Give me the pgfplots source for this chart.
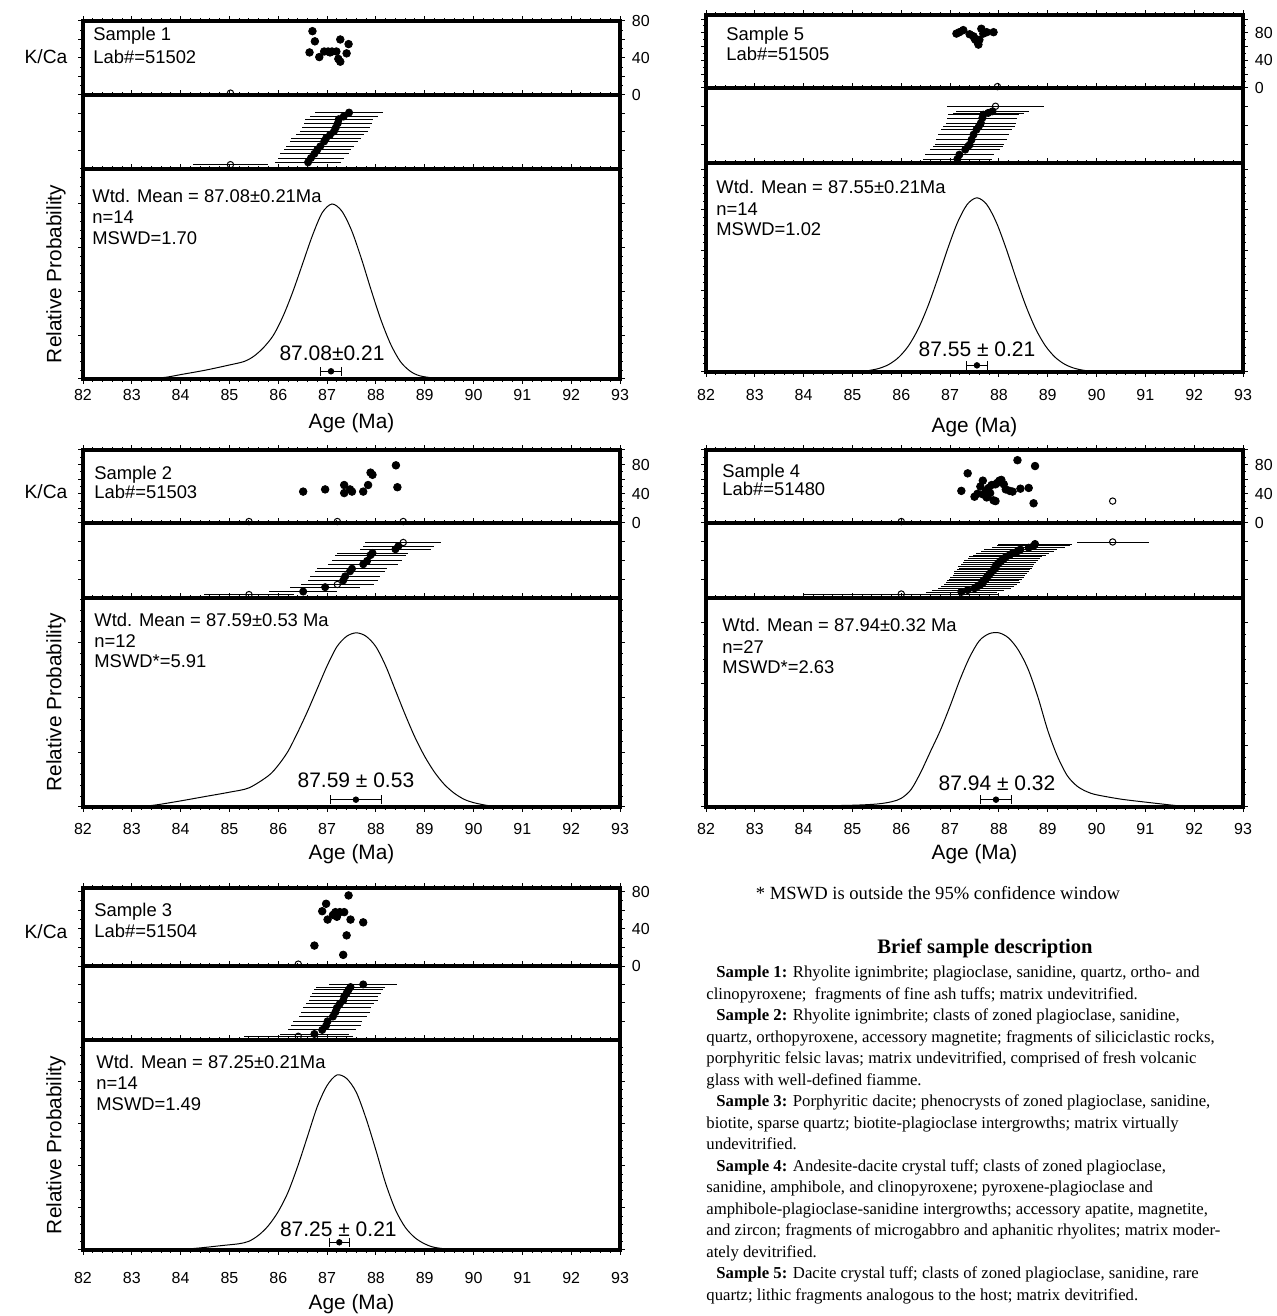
\documentclass[border=0pt]{standalone}
\usepackage{pgfplots}
\pgfplotsset{compat=1.18}
\usepackage{fontspec}
\setmainfont{Liberation Sans}
\newfontfamily\timesfont{Liberation Serif}

\pgfplotsset{
  base/.style={
    scale only axis, width=268.5pt, xmin=82, xmax=93,
    axis line style={line width=1.7pt},
    xtick={82,...,93}, minor x tick num=4,
    tick align=outside,
    major tick length=2.4pt, minor tick length=1.3pt,
    tick style={black, line width=0.5pt},
    /pgf/number format/assume math mode=true,
    tick label style={font=\fontsize{8}{9}\selectfont},
  },
  kca/.style={base, ymin=0, xtick pos=right, xticklabels={},
    ytick={0,20,...,100}, yticklabels={0,,40,,80,}, minor y tick num=1,
    ytick pos=both, yticklabel pos=right},
  rank/.style={base, ymin=0, ymax=1, xtick pos=right, xticklabels={},
    ytick={0.25,0.5,0.75}, yticklabels={}, ytick pos=both},
  prob/.style={base, ymin=0, ymax=1.2, xtick pos=both, yticklabels={},
    ytick pos=both, minor y tick num=4, xticklabel style={anchor=center}},
  filled/.style={only marks, mark=*, mark size=1.9pt, black},
  openm/.style={only marks, mark=o, mark size=1.6pt, black, mark options={fill=white, line width=0.5pt}},
  bars/.style={only marks, mark=*, mark size=1.8pt, black,
    /pgfplots/error bars/x dir=both, /pgfplots/error bars/x explicit,
    /pgfplots/error bars/error mark=none,
    /pgfplots/error bars/error bar style={line width=0.45pt, black}},
  obars/.style={only marks, mark=o, mark size=1.6pt, black, mark options={fill=white, line width=0.5pt},
    /pgfplots/error bars/x dir=both, /pgfplots/error bars/x explicit,
    /pgfplots/error bars/error mark=none,
    /pgfplots/error bars/error bar style={line width=0.45pt, black}},
  curve/.style={black, line width=0.5pt, smooth, tension=0.5, mark=none},
  wm/.style={only marks, mark=*, mark size=1.4pt, black,
    /pgfplots/error bars/x dir=both, /pgfplots/error bars/x explicit,
    /pgfplots/error bars/error mark=|,
    /pgfplots/error bars/error mark options={black, mark size=2.2pt, line width=0.5pt},
    /pgfplots/error bars/error bar style={line width=0.5pt, black}},
}
\tikzset{
  lab/.style={font=\fontsize{10.5}{12}\selectfont, inner sep=0pt},
  intxt/.style={anchor=west, inner sep=0pt, font=\fontsize{9.2}{11}\selectfont},
  bigl/.style={inner sep=0pt, font=\fontsize{10.4}{12}\selectfont},
}

\begin{document}
\begin{tikzpicture}
\path[use as bounding box] (0,0) rectangle (638.5pt,658pt);

% ================= Sample 1 =================
\begin{axis}[kca, at={(41.5pt,647.5pt)}, anchor=north west, height=37pt, ymax=80,
  ytick={0,20,...,80}, yticklabels={0,,40,,80}]
\addplot[filled] table {
86.64 46
86.70 69
86.75 58
86.84 41
86.94 47
87.02 47
87.06 46
87.10 47
87.19 47
87.23 39
87.27 60
87.27 36
87.40 45
87.44 55
};
\addplot[openm] table {
85.02 2
};
\end{axis}
\begin{axis}[rank, at={(41.5pt,610.5pt)}, anchor=north west, height=37pt]
\addplot[bars] table[x error index=2] {
86.61 0.090 0.68
86.67 0.148 0.68
86.74 0.206 0.70
86.80 0.260 0.69
86.86 0.305 0.70
86.94 0.372 0.70
86.98 0.417 0.71
87.06 0.462 0.70
87.14 0.507 0.70
87.18 0.561 0.69
87.22 0.619 0.70
87.24 0.673 0.70
87.34 0.709 0.70
87.45 0.762 0.70
};
\addplot[obars] table[x error index=2] {
85.02 0.058 0.76
};
\end{axis}
\begin{axis}[prob, at={(41.5pt,573.5pt)}, anchor=north west, height=105pt,
  ytick={0,0.25,...,1.2}, xticklabel style={yshift=-5.5pt}]
\addplot[curve] table {
83.3 0.0
83.7 0.010
84.0 0.025
84.5 0.050
85.0 0.080
85.3 0.100
85.5 0.130
85.7 0.180
85.9 0.250
86.1 0.360
86.3 0.500
86.5 0.660
86.7 0.820
86.9 0.950
87.1 1.000
87.3 0.960
87.5 0.850
87.7 0.690
87.9 0.510
88.1 0.340
88.3 0.200
88.5 0.100
88.7 0.045
88.9 0.018
89.2 0.005
89.5 0.0
};
\addplot[wm] table[x error index=2] {
87.08 0.044 0.21
};
\node[lab] at (axis cs:87.1,0.145) {87.08±0.21};
\end{axis}

% ================= Sample 5 =================
\begin{axis}[kca, at={(353pt,650.5pt)}, anchor=north west, height=36.5pt, ymax=106]
\addplot[filled] table {
87.13 79
87.19 81
87.27 84
87.40 78
87.48 75
87.50 72
87.52 70
87.56 67
87.58 63
87.60 70
87.64 86
87.68 79
87.75 81
87.89 81
};
\addplot[openm] table {
87.97 2
};
\end{axis}
\begin{axis}[rank, at={(353pt,614pt)}, anchor=north west, height=37.5pt]
\addplot[bars] table[x error index=2] {
87.15 0.053 0.71
87.19 0.111 0.71
87.31 0.178 0.72
87.37 0.222 0.72
87.40 0.244 0.71
87.44 0.311 0.72
87.48 0.378 0.72
87.54 0.444 0.72
87.59 0.489 0.73
87.63 0.533 0.72
87.66 0.600 0.72
87.68 0.644 0.73
87.78 0.667 0.73
87.87 0.689 0.74
};
\addplot[obars] table[x error index=2] {
87.93 0.756 0.99
};
\end{axis}
\begin{axis}[prob, at={(353pt,576.5pt)}, anchor=north west, height=104.5pt,
  ytick={0,0.233,...,1.2}, xticklabel style={yshift=-9pt}]
\addplot[curve] table {
85.15 0.0
85.35 0.009
85.55 0.021
85.75 0.044
85.95 0.085
86.15 0.151
86.35 0.249
86.55 0.381
86.75 0.539
86.95 0.707
87.15 0.857
87.35 0.962
87.55 1.000
87.75 0.962
87.95 0.857
88.15 0.707
88.35 0.539
88.55 0.381
88.75 0.249
88.95 0.151
89.15 0.085
89.35 0.044
89.55 0.021
89.75 0.009
90.05 0.0
};
\addplot[wm] table[x error index=2] {
87.55 0.038 0.21
};
\node[lab] at (axis cs:87.55,0.13) {87.55 ± 0.21};
\end{axis}

% ================= Sample 2 =================
\begin{axis}[kca, at={(41.5pt,433pt)}, anchor=north west, height=36.5pt, ymax=100]
\addplot[filled] table {
86.51 43
86.96 46
87.35 52
87.35 41
87.47 46
87.51 43
87.74 43
87.84 52
87.89 69
87.93 66
88.41 79
88.44 49
};
\addplot[openm] table {
85.40 2
87.21 2
88.56 2
};
\end{axis}
\begin{axis}[rank, at={(41.5pt,396.5pt)}, anchor=north west, height=37.5pt]
\addplot[bars] table[x error index=2] {
86.51 0.086 0.70
86.96 0.144 0.72
87.33 0.234 0.72
87.37 0.288 0.72
87.47 0.356 0.72
87.51 0.390 0.72
87.74 0.450 0.72
87.82 0.495 0.72
87.89 0.572 0.72
87.93 0.600 0.72
88.40 0.650 0.72
88.46 0.690 0.72
};
\addplot[obars] table[x error index=2] {
85.40 0.045 0.93
87.21 0.180 0.75
88.56 0.740 0.78
};
\end{axis}
\begin{axis}[prob, at={(41.5pt,359pt)}, anchor=north west, height=104.5pt,
  ytick={0,0.314,...,1.2}, xticklabel style={yshift=-8.5pt}]
\addplot[curve] table {
83.1 0.0
83.5 0.012
84.0 0.035
84.5 0.060
85.0 0.085
85.4 0.110
85.8 0.180
86.0 0.240
86.2 0.320
86.4 0.430
86.6 0.550
86.8 0.680
87.0 0.810
87.2 0.920
87.4 0.980
87.6 1.000
87.8 0.980
88.0 0.920
88.2 0.810
88.4 0.670
88.6 0.530
88.8 0.400
89.0 0.290
89.2 0.200
89.4 0.130
89.6 0.080
89.8 0.045
90.0 0.025
90.3 0.008
90.6 0.0
};
\addplot[wm] table[x error index=2] {
87.59 0.042 0.53
};
\node[lab] at (axis cs:87.59,0.155) {87.59 ± 0.53};
\end{axis}

% ================= Sample 4 =================
\begin{axis}[kca, at={(353pt,433pt)}, anchor=north west, height=36.5pt, ymax=100]
\addplot[filled] table {
87.23 44
87.36 68
87.50 36
87.56 40
87.62 50
87.67 58
87.68 39
87.73 44
87.75 35
87.79 48
87.82 41
87.85 52
87.89 31
87.93 30
87.93 53
87.97 55
88.01 58
88.05 59
88.10 53
88.14 46
88.22 44
88.28 43
88.38 86
88.44 47
88.61 48
88.71 27
88.74 78
};
\addplot[openm] table {
86.00 2
90.33 30
};
\end{axis}
\begin{axis}[rank, at={(353pt,396.5pt)}, anchor=north west, height=37.5pt]
\addplot[bars] table[x error index=2] {
87.23 0.080 0.73
87.36 0.105 0.74
87.50 0.129 0.75
87.56 0.154 0.74
87.62 0.178 0.75
87.67 0.203 0.76
87.68 0.228 0.74
87.73 0.252 0.75
87.75 0.277 0.76
87.79 0.302 0.74
87.82 0.326 0.75
87.85 0.351 0.76
87.89 0.375 0.74
87.93 0.400 0.75
87.93 0.425 0.76
87.97 0.449 0.74
88.01 0.474 0.75
88.05 0.498 0.76
88.10 0.523 0.74
88.14 0.548 0.75
88.22 0.572 0.75
88.28 0.597 0.74
88.38 0.622 0.75
88.44 0.646 0.74
88.61 0.671 0.75
88.71 0.695 0.74
88.74 0.720 0.75
};
\addplot[obars] table[x error index=2] {
86.00 0.053 2.00
90.33 0.747 0.74
};
\end{axis}
\begin{axis}[prob, at={(353pt,359pt)}, anchor=north west, height=104.5pt,
  ytick={0,0.354,...,1.2}, xticklabel style={yshift=-8.5pt}]
\addplot[curve] table {
82.6 0.003
83.5 0.004
84.2 0.006
85.0 0.010
85.5 0.017
85.8 0.030
86.0 0.050
86.2 0.100
86.4 0.200
86.6 0.320
86.8 0.440
87.0 0.580
87.2 0.730
87.4 0.860
87.6 0.955
87.8 0.995
88.0 1.000
88.2 0.970
88.4 0.900
88.6 0.790
88.8 0.630
89.0 0.440
89.2 0.290
89.4 0.180
89.6 0.120
89.8 0.088
90.0 0.070
90.5 0.045
91.0 0.028
91.5 0.012
91.9 0.0
};
\addplot[wm] table[x error index=2] {
87.94 0.042 0.32
};
\node[lab] at (axis cs:87.96,0.135) {87.94 ± 0.32};
\end{axis}

% ================= Sample 3 =================
\begin{axis}[kca, at={(41.5pt,214pt)}, anchor=north west, height=39pt, ymax=84,
  ytick={0,20,...,80}, yticklabels={0,,40,,80}]
\addplot[filled] table {
86.74 22
86.90 59
86.98 67
87.01 50
87.12 55
87.17 58
87.20 53
87.26 58
87.33 12
87.35 58
87.40 33
87.44 76
87.48 50
87.74 47
};
\addplot[openm] table {
86.41 2
};
\end{axis}
\begin{axis}[rank, at={(41.5pt,175pt)}, anchor=north west, height=37pt]
\addplot[bars] table[x error index=2] {
86.74 0.081 0.70
86.90 0.136 0.70
86.98 0.195 0.71
87.01 0.253 0.70
87.12 0.317 0.70
87.17 0.376 0.71
87.20 0.434 0.70
87.26 0.489 0.70
87.33 0.534 0.71
87.35 0.588 0.70
87.40 0.633 0.70
87.44 0.679 0.71
87.48 0.715 0.70
87.74 0.751 0.70
};
\addplot[obars] table[x error index=2] {
86.41 0.050 1.12
};
\end{axis}
\begin{axis}[prob, at={(41.5pt,138pt)}, anchor=north west, height=105pt,
  ytick={0,0.241,...,1.2}, xticklabel style={yshift=-11.5pt}]
\addplot[curve] table {
83.9 0.0
84.4 0.012
84.9 0.027
85.2 0.036
85.4 0.050
85.6 0.085
85.8 0.140
86.0 0.220
86.2 0.330
86.4 0.480
86.6 0.650
86.8 0.820
87.0 0.940
87.2 1.000
87.4 0.980
87.6 0.900
87.8 0.750
88.0 0.570
88.2 0.380
88.4 0.230
88.6 0.130
88.8 0.070
89.0 0.035
89.2 0.015
89.6 0.0
};
\addplot[wm] table[x error index=2] {
87.25 0.044 0.21
};
\node[lab] at (axis cs:87.23,0.12) {87.25 ± 0.21};
\end{axis}

% ================= labels =================
\node[intxt] at (46.5pt,640pt) {Sample 1};
\node[intxt] at (46.5pt,629.5pt) {Lab\#=51502};
\node[intxt] at (363pt,640pt) {Sample 5};
\node[intxt] at (363pt,631pt) {Lab\#=51505};
\node[intxt] at (47pt,420.5pt) {Sample 2};
\node[intxt] at (47pt,412pt) {Lab\#=51503};
\node[intxt] at (361pt,421.5pt) {Sample 4};
\node[intxt] at (361pt,413.5pt) {Lab\#=51480};
\node[intxt] at (47pt,202pt) {Sample 3};
\node[intxt] at (47pt,192.5pt) {Lab\#=51504};

\node[intxt] at (46pt,560pt) {Wtd. Mean = 87.08±0.21Ma};
\node[intxt] at (46pt,549.5pt) {n=14};
\node[intxt] at (46pt,539pt) {MSWD=1.70};
\node[intxt] at (358pt,564.5pt) {Wtd. Mean = 87.55±0.21Ma};
\node[intxt] at (358pt,553.5pt) {n=14};
\node[intxt] at (358pt,543.5pt) {MSWD=1.02};
\node[intxt] at (47pt,348pt) {Wtd. Mean = 87.59±0.53 Ma};
\node[intxt] at (47pt,337.5pt) {n=12};
\node[intxt] at (47pt,327.5pt) {MSWD*=5.91};
\node[intxt] at (361pt,345.5pt) {Wtd. Mean = 87.94±0.32 Ma};
\node[intxt] at (361pt,334.5pt) {n=27};
\node[intxt] at (361pt,324.5pt) {MSWD*=2.63};
\node[intxt] at (48pt,127pt) {Wtd. Mean = 87.25±0.21Ma};
\node[intxt] at (48pt,116.5pt) {n=14};
\node[intxt] at (48pt,106pt) {MSWD=1.49};

\node[inner sep=0pt, font=\fontsize{9.6}{11}\selectfont] at (23pt,629.5pt) {K/Ca};
\node[inner sep=0pt, font=\fontsize{9.6}{11}\selectfont] at (23pt,412pt) {K/Ca};
\node[inner sep=0pt, font=\fontsize{9.6}{11}\selectfont] at (23pt,192pt) {K/Ca};

\node[bigl, rotate=90] at (28pt,521pt) {Relative Probability};
\node[bigl, rotate=90] at (28pt,306.75pt) {Relative Probability};
\node[bigl, rotate=90] at (28pt,85.5pt) {Relative Probability};

\node[bigl] at (175.75pt,446.5pt) {Age (Ma)};
\node[bigl] at (487.25pt,444.5pt) {Age (Ma)};
\node[bigl] at (175.75pt,231pt) {Age (Ma)};
\node[bigl] at (487.25pt,231pt) {Age (Ma)};
\node[bigl] at (175.75pt,6pt) {Age (Ma)};

% ================= description =================
\node[inner sep=0pt, font=\timesfont\fontsize{9.3}{11}\selectfont] at (469pt,211.5pt) {* MSWD is outside the 95\% confidence window};
\node[inner sep=0pt, font=\timesfont\bfseries\fontsize{10.3}{12}\selectfont] at (492.5pt,184pt) {Brief sample description};
\node[anchor=north west, inner sep=0pt, align=left, font=\timesfont\fontsize{8.35}{10.75}\selectfont] at (353pt,175pt) {%
\hspace*{5pt}\textbf{Sample 1:} Rhyolite ignimbrite; plagioclase, sanidine, quartz, ortho- and\\
clinopyroxene;\ \ fragments of fine ash tuffs; matrix undevitrified.\\
\hspace*{5pt}\textbf{Sample 2:} Rhyolite ignimbrite; clasts of zoned plagioclase, sanidine,\\
quartz, orthopyroxene, accessory magnetite; fragments of siliciclastic rocks,\\
porphyritic felsic lavas; matrix undevitrified, comprised of fresh volcanic\\
glass with well-defined fiamme.\\
\hspace*{5pt}\textbf{Sample 3:} Porphyritic dacite; phenocrysts of zoned plagioclase, sanidine,\\
biotite, sparse quartz; biotite-plagioclase intergrowths; matrix virtually\\
undevitrified.\\
\hspace*{5pt}\textbf{Sample 4:} Andesite-dacite crystal tuff; clasts of zoned plagioclase,\\
sanidine, amphibole, and clinopyroxene; pyroxene-plagioclase and\\
amphibole-plagioclase-sanidine intergrowths; accessory apatite, magnetite,\\
and zircon; fragments of microgabbro and aphanitic rhyolites; matrix moder-\\
ately devitrified.\\
\hspace*{5pt}\textbf{Sample 5:} Dacite crystal tuff; clasts of zoned plagioclase, sanidine, rare\\
quartz; lithic fragments analogous to the host; matrix devitrified.};
\end{tikzpicture}
\end{document}
